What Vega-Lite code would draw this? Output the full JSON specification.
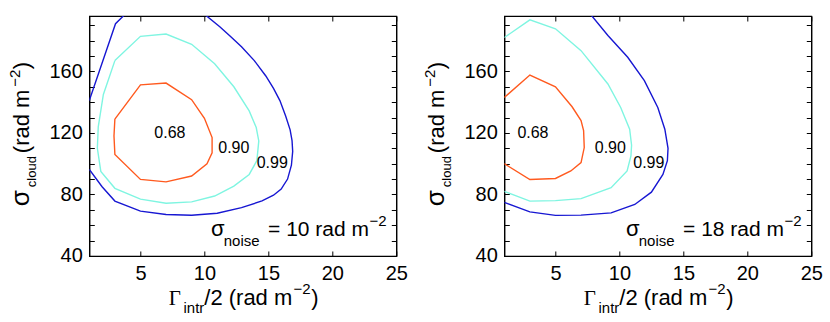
{
  "$schema": "https://vega.github.io/schema/vega-lite/v6.json",
  "padding": {"left": 7.3, "top": 14, "right": 5, "bottom": 5},
  "background": "white",
  "config": {
    "view": {"stroke": "black", "strokeWidth": 1.2},
    "font": "Liberation Sans",
    "axis": {"domainColor": "black", "tickColor": "black", "labelColor": "black", "grid": false}
  },
  "data": {"values": [
    {"kind":"c","p":"10","lev":"0.68","seg":"10-68","i":0,"x":3,"y":129},
    {"kind":"c","p":"10","lev":"0.68","seg":"10-68","i":1,"x":5,"y":151.2},
    {"kind":"c","p":"10","lev":"0.68","seg":"10-68","i":2,"x":7,"y":152.4},
    {"kind":"c","p":"10","lev":"0.68","seg":"10-68","i":3,"x":9,"y":141.6},
    {"kind":"c","p":"10","lev":"0.68","seg":"10-68","i":4,"x":10,"y":129.5},
    {"kind":"c","p":"10","lev":"0.68","seg":"10-68","i":5,"x":10.6,"y":117},
    {"kind":"c","p":"10","lev":"0.68","seg":"10-68","i":6,"x":10.6,"y":107},
    {"kind":"c","p":"10","lev":"0.68","seg":"10-68","i":7,"x":10.2,"y":100},
    {"kind":"c","p":"10","lev":"0.68","seg":"10-68","i":8,"x":9,"y":92},
    {"kind":"c","p":"10","lev":"0.68","seg":"10-68","i":9,"x":7,"y":88.2},
    {"kind":"c","p":"10","lev":"0.68","seg":"10-68","i":10,"x":5,"y":89.8},
    {"kind":"c","p":"10","lev":"0.68","seg":"10-68","i":11,"x":3,"y":106},
    {"kind":"c","p":"10","lev":"0.68","seg":"10-68","i":12,"x":2.93,"y":118},
    {"kind":"c","p":"10","lev":"0.68","seg":"10-68","i":13,"x":3,"y":129},

    {"kind":"c","p":"10","lev":"0.90","seg":"10-90","i":0,"x":3,"y":167},
    {"kind":"c","p":"10","lev":"0.90","seg":"10-90","i":1,"x":5,"y":182.8},
    {"kind":"c","p":"10","lev":"0.90","seg":"10-90","i":2,"x":7,"y":184.3},
    {"kind":"c","p":"10","lev":"0.90","seg":"10-90","i":3,"x":9,"y":177.6},
    {"kind":"c","p":"10","lev":"0.90","seg":"10-90","i":4,"x":10.8,"y":165},
    {"kind":"c","p":"10","lev":"0.90","seg":"10-90","i":5,"x":12.3,"y":150},
    {"kind":"c","p":"10","lev":"0.90","seg":"10-90","i":6,"x":13.5,"y":134.3},
    {"kind":"c","p":"10","lev":"0.90","seg":"10-90","i":7,"x":14.05,"y":123.5},
    {"kind":"c","p":"10","lev":"0.90","seg":"10-90","i":8,"x":14.25,"y":114.8},
    {"kind":"c","p":"10","lev":"0.90","seg":"10-90","i":9,"x":14.1,"y":102},
    {"kind":"c","p":"10","lev":"0.90","seg":"10-90","i":10,"x":13.5,"y":93},
    {"kind":"c","p":"10","lev":"0.90","seg":"10-90","i":11,"x":12.3,"y":85.4},
    {"kind":"c","p":"10","lev":"0.90","seg":"10-90","i":12,"x":10.8,"y":79},
    {"kind":"c","p":"10","lev":"0.90","seg":"10-90","i":13,"x":9,"y":75.2},
    {"kind":"c","p":"10","lev":"0.90","seg":"10-90","i":14,"x":7,"y":74.3},
    {"kind":"c","p":"10","lev":"0.90","seg":"10-90","i":15,"x":5,"y":77},
    {"kind":"c","p":"10","lev":"0.90","seg":"10-90","i":16,"x":3,"y":84},
    {"kind":"c","p":"10","lev":"0.90","seg":"10-90","i":17,"x":1.9,"y":95},
    {"kind":"c","p":"10","lev":"0.90","seg":"10-90","i":18,"x":1.63,"y":110},
    {"kind":"c","p":"10","lev":"0.90","seg":"10-90","i":19,"x":1.7,"y":124},
    {"kind":"c","p":"10","lev":"0.90","seg":"10-90","i":20,"x":2.1,"y":145},
    {"kind":"c","p":"10","lev":"0.90","seg":"10-90","i":21,"x":3,"y":167},

    {"kind":"c","p":"10","lev":"0.99","seg":"10-99a","i":0,"x":3.72,"y":196.5},
    {"kind":"c","p":"10","lev":"0.99","seg":"10-99a","i":1,"x":3.05,"y":191},
    {"kind":"c","p":"10","lev":"0.99","seg":"10-99a","i":2,"x":1,"y":141},

    {"kind":"c","p":"10","lev":"0.99","seg":"10-99b","i":0,"x":1,"y":96.3},
    {"kind":"c","p":"10","lev":"0.99","seg":"10-99b","i":1,"x":2,"y":85},
    {"kind":"c","p":"10","lev":"0.99","seg":"10-99b","i":2,"x":3,"y":75.7},
    {"kind":"c","p":"10","lev":"0.99","seg":"10-99b","i":3,"x":5,"y":69.2},
    {"kind":"c","p":"10","lev":"0.99","seg":"10-99b","i":4,"x":7,"y":67},
    {"kind":"c","p":"10","lev":"0.99","seg":"10-99b","i":5,"x":9,"y":66.5},
    {"kind":"c","p":"10","lev":"0.99","seg":"10-99b","i":6,"x":11,"y":67.8},
    {"kind":"c","p":"10","lev":"0.99","seg":"10-99b","i":7,"x":12.9,"y":71.4},
    {"kind":"c","p":"10","lev":"0.99","seg":"10-99b","i":8,"x":14.5,"y":75.8},
    {"kind":"c","p":"10","lev":"0.99","seg":"10-99b","i":9,"x":15.4,"y":79.5},
    {"kind":"c","p":"10","lev":"0.99","seg":"10-99b","i":10,"x":16,"y":83.5},
    {"kind":"c","p":"10","lev":"0.99","seg":"10-99b","i":11,"x":16.5,"y":90},
    {"kind":"c","p":"10","lev":"0.99","seg":"10-99b","i":12,"x":16.8,"y":99},
    {"kind":"c","p":"10","lev":"0.99","seg":"10-99b","i":13,"x":16.9,"y":108},
    {"kind":"c","p":"10","lev":"0.99","seg":"10-99b","i":14,"x":16.85,"y":115},
    {"kind":"c","p":"10","lev":"0.99","seg":"10-99b","i":15,"x":16.7,"y":122},
    {"kind":"c","p":"10","lev":"0.99","seg":"10-99b","i":16,"x":16.35,"y":131},
    {"kind":"c","p":"10","lev":"0.99","seg":"10-99b","i":17,"x":15.9,"y":141},
    {"kind":"c","p":"10","lev":"0.99","seg":"10-99b","i":18,"x":15.4,"y":149},
    {"kind":"c","p":"10","lev":"0.99","seg":"10-99b","i":19,"x":14.8,"y":157},
    {"kind":"c","p":"10","lev":"0.99","seg":"10-99b","i":20,"x":13.9,"y":167},
    {"kind":"c","p":"10","lev":"0.99","seg":"10-99b","i":21,"x":12.9,"y":176},
    {"kind":"c","p":"10","lev":"0.99","seg":"10-99b","i":22,"x":12,"y":183},
    {"kind":"c","p":"10","lev":"0.99","seg":"10-99b","i":23,"x":11.2,"y":189},
    {"kind":"c","p":"10","lev":"0.99","seg":"10-99b","i":24,"x":10.1,"y":196.5},

    {"kind":"c","p":"18","lev":"0.68","seg":"18-68","i":0,"x":1,"y":143},
    {"kind":"c","p":"18","lev":"0.68","seg":"18-68","i":1,"x":3,"y":157.6},
    {"kind":"c","p":"18","lev":"0.68","seg":"18-68","i":2,"x":5,"y":150},
    {"kind":"c","p":"18","lev":"0.68","seg":"18-68","i":3,"x":6.3,"y":137},
    {"kind":"c","p":"18","lev":"0.68","seg":"18-68","i":4,"x":7,"y":128},
    {"kind":"c","p":"18","lev":"0.68","seg":"18-68","i":5,"x":7.2,"y":121.5},
    {"kind":"c","p":"18","lev":"0.68","seg":"18-68","i":6,"x":7.25,"y":110.5},
    {"kind":"c","p":"18","lev":"0.68","seg":"18-68","i":7,"x":7,"y":100.7},
    {"kind":"c","p":"18","lev":"0.68","seg":"18-68","i":8,"x":6.2,"y":95.3},
    {"kind":"c","p":"18","lev":"0.68","seg":"18-68","i":9,"x":5,"y":90.4},
    {"kind":"c","p":"18","lev":"0.68","seg":"18-68","i":10,"x":3,"y":89.7},
    {"kind":"c","p":"18","lev":"0.68","seg":"18-68","i":11,"x":1,"y":100},

    {"kind":"c","p":"18","lev":"0.90","seg":"18-90","i":0,"x":1,"y":182},
    {"kind":"c","p":"18","lev":"0.90","seg":"18-90","i":1,"x":3,"y":193.5},
    {"kind":"c","p":"18","lev":"0.90","seg":"18-90","i":2,"x":5,"y":187.7},
    {"kind":"c","p":"18","lev":"0.90","seg":"18-90","i":3,"x":7,"y":173.5},
    {"kind":"c","p":"18","lev":"0.90","seg":"18-90","i":4,"x":9.1,"y":151.8},
    {"kind":"c","p":"18","lev":"0.90","seg":"18-90","i":5,"x":10.1,"y":136.5},
    {"kind":"c","p":"18","lev":"0.90","seg":"18-90","i":6,"x":10.8,"y":122.4},
    {"kind":"c","p":"18","lev":"0.90","seg":"18-90","i":7,"x":10.95,"y":112},
    {"kind":"c","p":"18","lev":"0.90","seg":"18-90","i":8,"x":10.9,"y":105},
    {"kind":"c","p":"18","lev":"0.90","seg":"18-90","i":9,"x":10.6,"y":95.3},
    {"kind":"c","p":"18","lev":"0.90","seg":"18-90","i":10,"x":9.35,"y":84.4},
    {"kind":"c","p":"18","lev":"0.90","seg":"18-90","i":11,"x":7,"y":77.3},
    {"kind":"c","p":"18","lev":"0.90","seg":"18-90","i":12,"x":5,"y":76},
    {"kind":"c","p":"18","lev":"0.90","seg":"18-90","i":13,"x":3,"y":75.7},
    {"kind":"c","p":"18","lev":"0.90","seg":"18-90","i":14,"x":1,"y":82},

    {"kind":"c","p":"18","lev":"0.99","seg":"18-99","i":0,"x":7.8,"y":196.5},
    {"kind":"c","p":"18","lev":"0.99","seg":"18-99","i":1,"x":9.1,"y":183.3},
    {"kind":"c","p":"18","lev":"0.99","seg":"18-99","i":2,"x":10.65,"y":169.2},
    {"kind":"c","p":"18","lev":"0.99","seg":"18-99","i":3,"x":11.95,"y":154},
    {"kind":"c","p":"18","lev":"0.99","seg":"18-99","i":4,"x":13,"y":136.5},
    {"kind":"c","p":"18","lev":"0.99","seg":"18-99","i":5,"x":13.55,"y":122.4},
    {"kind":"c","p":"18","lev":"0.99","seg":"18-99","i":6,"x":13.8,"y":110},
    {"kind":"c","p":"18","lev":"0.99","seg":"18-99","i":7,"x":13.75,"y":102},
    {"kind":"c","p":"18","lev":"0.99","seg":"18-99","i":8,"x":13.4,"y":93},
    {"kind":"c","p":"18","lev":"0.99","seg":"18-99","i":9,"x":12.5,"y":81.5},
    {"kind":"c","p":"18","lev":"0.99","seg":"18-99","i":10,"x":11.2,"y":73.5},
    {"kind":"c","p":"18","lev":"0.99","seg":"18-99","i":11,"x":9.35,"y":68},
    {"kind":"c","p":"18","lev":"0.99","seg":"18-99","i":12,"x":7,"y":66.6},
    {"kind":"c","p":"18","lev":"0.99","seg":"18-99","i":13,"x":5,"y":66.4},
    {"kind":"c","p":"18","lev":"0.99","seg":"18-99","i":14,"x":3,"y":68.7},
    {"kind":"c","p":"18","lev":"0.99","seg":"18-99","i":15,"x":1,"y":74.8},

    {"kind":"l","p":"10","t":"0.68","x":7.3,"y":120.2},
    {"kind":"l","p":"10","t":"0.90","x":12.3,"y":110.5},
    {"kind":"l","p":"10","t":"0.99","x":15.3,"y":100.3},
    {"kind":"l","p":"18","t":"0.68","x":3.24,"y":120.2},
    {"kind":"l","p":"18","t":"0.90","x":9.29,"y":110.5},
    {"kind":"l","p":"18","t":"0.99","x":12.3,"y":100.5},

    {"kind":"xt","p":"10","x":13,"y":40,"t1":"Γ","t2":"intr","t3":"/2 (rad m","t4":"−2","t5":")"},
    {"kind":"xt","p":"18","x":13,"y":40,"t1":"Γ","t2":"intr","t3":"/2 (rad m","t4":"−2","t5":")"},
    {"kind":"yt","p":"10","x":1,"y":72.4,"t1":"σ","t2":"cloud","t3":"(rad m","t4":"−2","t5":")"},
    {"kind":"yt","p":"18","x":1,"y":72.4,"t1":"σ","t2":"cloud","t3":"(rad m","t4":"−2","t5":")"},
    {"kind":"an","p":"10","x":10.52,"y":52.85,"t1":"σ","t2":"noise","t3":"= 10 rad m","t4":"−2"},
    {"kind":"an","p":"18","x":10.52,"y":52.85,"t1":"σ","t2":"noise","t3":"= 18 rad m","t4":"−2"}
  ]},
  "facet": {"column": {"field": "p", "type": "nominal", "header": null, "title": null}},
  "spacing": 108,
  "bounds": "flush",
  "resolve": {"axis": {"x": "independent", "y": "independent"}},
  "spec": {
    "width": 307,
    "height": 240,
    "resolve": {"axis": {"x": "independent", "y": "independent"}},
    "layer": [
      {
        "transform": [{"filter": "datum.kind == 'c'"}],
        "mark": {"type": "line", "clip": true, "strokeWidth": 1.4},
        "encoding": {
          "x": {"field": "x", "type": "quantitative", "scale": {"domain": [1, 25], "nice": false, "zero": false},
                "axis": {"orient": "bottom", "values": [5, 10, 15, 20, 25], "title": null, "tickSize": -5, "labelPadding": 13, "labelFontSize": 20, "labelFlush": false, "labelOverlap": false}},
          "y": {"field": "y", "type": "quantitative", "scale": {"domain": [40, 196], "nice": false, "zero": false},
                "axis": {"orient": "left", "values": [40, 50, 60, 70, 80, 90, 100, 110, 120, 130, 140, 150, 160, 170, 180, 190], "labelExpr": "datum.value % 40 == 0 ? datum.label : ''", "title": null, "tickSize": -5, "labelPadding": 12, "labelFontSize": 20, "labelOverlap": false, "labelFlush": false}},
          "color": {"field": "lev", "type": "nominal", "legend": null, "scale": {"domain": ["0.68", "0.90", "0.99"], "range": ["#ff5a1f", "#7ff5e1", "#1717d2"]}},
          "detail": {"field": "seg"},
          "order": {"field": "i", "type": "quantitative"}
        }
      },
      {
        "transform": [{"filter": "datum.kind == 'l'"}],
        "mark": {"type": "text", "fontSize": 16, "font": "Liberation Sans", "align": "center", "baseline": "middle", "color": "black"},
        "encoding": {
          "x": {"field": "x", "type": "quantitative", "axis": {"orient": "top", "values": [5, 10, 15, 20, 25], "labels": false, "title": null, "tickSize": -5}},
          "y": {"field": "y", "type": "quantitative", "axis": {"orient": "right", "values": [40, 50, 60, 70, 80, 90, 100, 110, 120, 130, 140, 150, 160, 170, 180, 190], "labels": false, "title": null, "tickSize": -5}},
          "text": {"field": "t"}
        }
      },
      {
        "transform": [{"filter": "datum.kind == 'xt'"}],
        "mark": {"type": "text", "font": "Liberation Serif", "fontSize": 21, "align": "left", "baseline": "alphabetic", "dx": -74, "dy": 48.6, "color": "black"},
        "encoding": {"x": {"field": "x", "type": "quantitative", "axis": null}, "y": {"field": "y", "type": "quantitative", "axis": null}, "text": {"field": "t1"}}
      },
      {
        "transform": [{"filter": "datum.kind == 'xt'"}],
        "mark": {"type": "text", "font": "Liberation Sans", "fontSize": 15, "align": "left", "baseline": "alphabetic", "dx": -59.3, "dy": 57, "color": "black"},
        "encoding": {"x": {"field": "x", "type": "quantitative", "axis": null}, "y": {"field": "y", "type": "quantitative", "axis": null}, "text": {"field": "t2"}}
      },
      {
        "transform": [{"filter": "datum.kind == 'xt'"}],
        "mark": {"type": "text", "font": "Liberation Sans", "fontSize": 22, "align": "left", "baseline": "alphabetic", "dx": -38.5, "dy": 48.6, "color": "black"},
        "encoding": {"x": {"field": "x", "type": "quantitative", "axis": null}, "y": {"field": "y", "type": "quantitative", "axis": null}, "text": {"field": "t3"}}
      },
      {
        "transform": [{"filter": "datum.kind == 'xt'"}],
        "mark": {"type": "text", "font": "Liberation Sans", "fontSize": 15, "align": "left", "baseline": "alphabetic", "dx": 50.7, "dy": 37.8, "color": "black"},
        "encoding": {"x": {"field": "x", "type": "quantitative", "axis": null}, "y": {"field": "y", "type": "quantitative", "axis": null}, "text": {"field": "t4"}}
      },
      {
        "transform": [{"filter": "datum.kind == 'xt'"}],
        "mark": {"type": "text", "font": "Liberation Sans", "fontSize": 22, "align": "left", "baseline": "alphabetic", "dx": 68.5, "dy": 48.6, "color": "black"},
        "encoding": {"x": {"field": "x", "type": "quantitative", "axis": null}, "y": {"field": "y", "type": "quantitative", "axis": null}, "text": {"field": "t5"}}
      },
      {
        "transform": [{"filter": "datum.kind == 'yt'"}],
        "mark": {"type": "text", "font": "Liberation Sans", "fontSize": 26, "angle": 270, "align": "left", "baseline": "alphabetic", "dx": 0, "dy": -60.4, "color": "black"},
        "encoding": {"x": {"field": "x", "type": "quantitative", "axis": null}, "y": {"field": "y", "type": "quantitative", "axis": null}, "text": {"field": "t1"}}
      },
      {
        "transform": [{"filter": "datum.kind == 'yt'"}],
        "mark": {"type": "text", "font": "Liberation Sans", "fontSize": 13, "angle": 270, "align": "left", "baseline": "alphabetic", "dx": 19, "dy": -53.7, "color": "black"},
        "encoding": {"x": {"field": "x", "type": "quantitative", "axis": null}, "y": {"field": "y", "type": "quantitative", "axis": null}, "text": {"field": "t2"}}
      },
      {
        "transform": [{"filter": "datum.kind == 'yt'"}],
        "mark": {"type": "text", "font": "Liberation Sans", "fontSize": 22, "angle": 270, "align": "left", "baseline": "alphabetic", "dx": 53, "dy": -60.4, "color": "black"},
        "encoding": {"x": {"field": "x", "type": "quantitative", "axis": null}, "y": {"field": "y", "type": "quantitative", "axis": null}, "text": {"field": "t3"}}
      },
      {
        "transform": [{"filter": "datum.kind == 'yt'"}],
        "mark": {"type": "text", "font": "Liberation Sans", "fontSize": 15, "angle": 270, "align": "left", "baseline": "alphabetic", "dx": 119.5, "dy": -69.2, "color": "black"},
        "encoding": {"x": {"field": "x", "type": "quantitative", "axis": null}, "y": {"field": "y", "type": "quantitative", "axis": null}, "text": {"field": "t4"}}
      },
      {
        "transform": [{"filter": "datum.kind == 'yt'"}],
        "mark": {"type": "text", "font": "Liberation Sans", "fontSize": 22, "angle": 270, "align": "left", "baseline": "alphabetic", "dx": 137, "dy": -60.4, "color": "black"},
        "encoding": {"x": {"field": "x", "type": "quantitative", "axis": null}, "y": {"field": "y", "type": "quantitative", "axis": null}, "text": {"field": "t5"}}
      },
      {
        "transform": [{"filter": "datum.kind == 'an'"}],
        "mark": {"type": "text", "font": "Liberation Sans", "fontSize": 22, "align": "left", "baseline": "alphabetic", "dx": 0, "dy": 0, "color": "black"},
        "encoding": {"x": {"field": "x", "type": "quantitative", "axis": null}, "y": {"field": "y", "type": "quantitative", "axis": null}, "text": {"field": "t1"}}
      },
      {
        "transform": [{"filter": "datum.kind == 'an'"}],
        "mark": {"type": "text", "font": "Liberation Sans", "fontSize": 15, "align": "left", "baseline": "alphabetic", "dx": 12.7, "dy": 10, "color": "black"},
        "encoding": {"x": {"field": "x", "type": "quantitative", "axis": null}, "y": {"field": "y", "type": "quantitative", "axis": null}, "text": {"field": "t2"}}
      },
      {
        "transform": [{"filter": "datum.kind == 'an'"}],
        "mark": {"type": "text", "font": "Liberation Sans", "fontSize": 21, "align": "left", "baseline": "alphabetic", "dx": 57, "dy": 0, "color": "black"},
        "encoding": {"x": {"field": "x", "type": "quantitative", "axis": null}, "y": {"field": "y", "type": "quantitative", "axis": null}, "text": {"field": "t3"}}
      },
      {
        "transform": [{"filter": "datum.kind == 'an'"}],
        "mark": {"type": "text", "font": "Liberation Sans", "fontSize": 15, "align": "left", "baseline": "alphabetic", "dx": 158.5, "dy": -10, "color": "black"},
        "encoding": {"x": {"field": "x", "type": "quantitative", "axis": null}, "y": {"field": "y", "type": "quantitative", "axis": null}, "text": {"field": "t4"}}
      }
    ]
  }
}
